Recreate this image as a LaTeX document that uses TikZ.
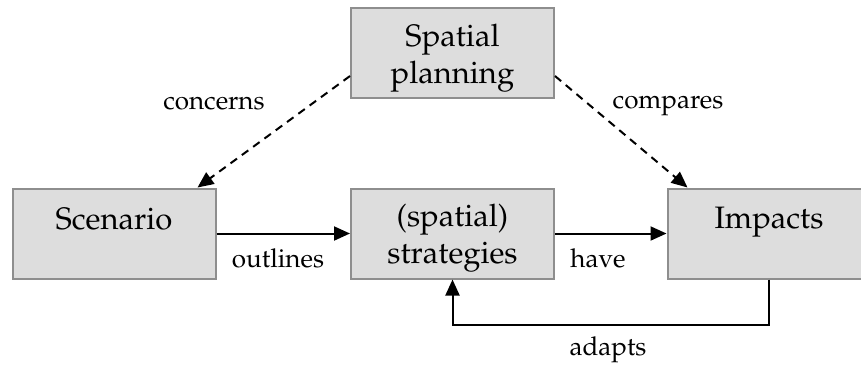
\documentclass[tikz,border=0pt]{standalone}
\usepackage[T1]{fontenc}
\usepackage{mathpazo}
\usetikzlibrary{arrows.meta,calc}
\definecolor{boxfill}{HTML}{DDDDDD}
\definecolor{boxline}{HTML}{8E8E8E}
\tikzset{
  box/.style={draw=boxline, fill=boxfill, line width=2pt, minimum width=203pt, minimum height=90pt, inner sep=0pt},
  boxtext/.style={font=\fontsize{31}{37}\selectfont, align=center, inner sep=0pt},
  lbl/.style={font=\fontsize{26}{30}\selectfont, inner sep=0pt, anchor=base},
  conn/.style={line width=2pt, -{Triangle[length=16pt,width=14pt]}},
  dconn/.style={conn, dash pattern=on 8pt off 6pt},
}
\begin{document}
\begin{tikzpicture}[x=1pt,y=-1pt]
\useasboundingbox (0,0) rectangle (861,365);
\node[box] (sp) at (452.5,53) {};
\node[box] (scen) at (114,233.5) {};
\node[box] (strat) at (452.5,233.5) {};
\node[box] (imp) at (769,233.5) {};
\node[boxtext, anchor=base] (spt) at (452.5,83) {Spatial\\planning};
\node[boxtext, anchor=base] (scent) at (114,229) {Scenario};
\node[boxtext, anchor=base] (stratt) at (452.5,263) {(spatial)\\strategies};
\node[boxtext, anchor=base] (impt) at (769,228) {Impacts};
\draw[dconn] ($(sp.south west)+(0,-23)$) -- ($(scen.north east)+(-19,0)$);
\draw[dconn] ($(sp.south east)+(0,-23)$) -- ($(imp.north west)+(21,0)$);
\draw[conn] (scen.east) -- (strat.west);
\draw[conn] (strat.east) -- (imp.west);
\coordinate (c1) at ($(imp.south)+(0,45)$);
\coordinate (c2) at ($(strat.south)+(0,45)$);
\draw[conn] (imp.south) -- (c1) -- (c2) -- (strat.south);
\node[lbl] (l1) at (214,109) {concerns};
\node[lbl] (l2) at (668,108) {compares};
\node[lbl] (l3) at (278,267) {outlines};
\node[lbl] (l4) at (598,267) {have};
\node[lbl] (l5) at (608,355) {adapts};
\end{tikzpicture}
\end{document}
